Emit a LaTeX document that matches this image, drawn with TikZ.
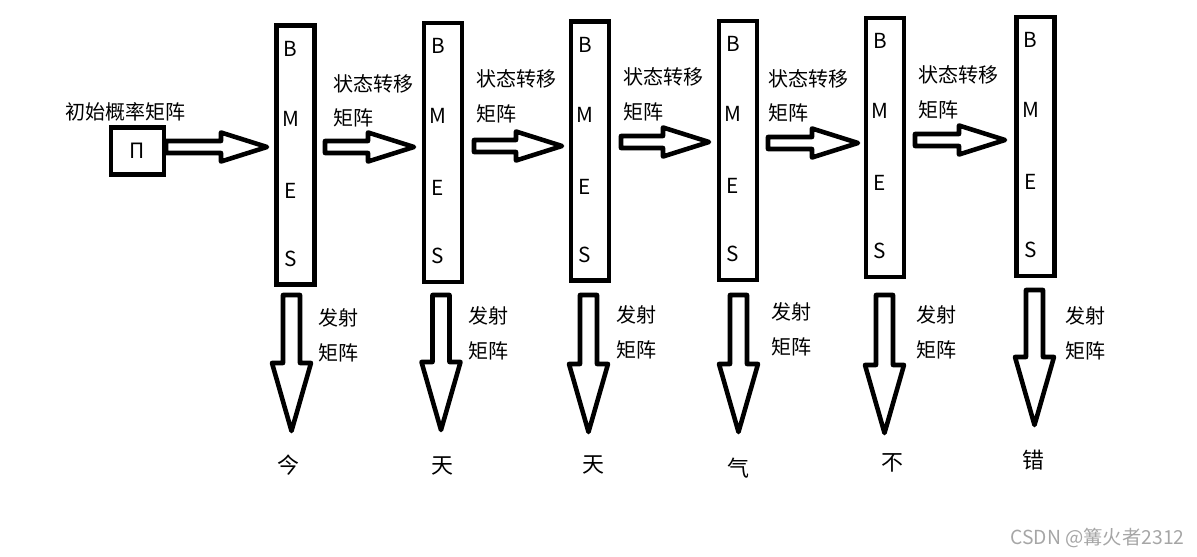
\documentclass[tikz,border=0pt]{standalone}
\usepackage{fontspec}
\setmainfont{Noto Sans CJK SC}
\usetikzlibrary{calc, positioning}

\tikzset{
    blockline/.style={line width=2.6pt, line join=round},
    statebox/.style={draw, line width=2.6pt, minimum width=0.76cm, minimum height=5.18cm, inner sep=0pt, outer sep=0pt},
    letter/.style={font=\fontsize{11.8}{13}\selectfont, inner sep=0pt},
    lbl/.style={font=\fontsize{11.4}{13}\selectfont, anchor=west, inner sep=0pt},
    obs/.style={font=\fontsize{12.5}{14}\selectfont, inner sep=0pt},
}
% horizontal block arrow: tail #1, tip #2
\newcommand{\hblock}[2]{%
  \draw[blockline] ($(#1)+(0,-6)$) -- ($(#2)+(-46,-6)$) -- ($(#2)+(-46,-14.5)$) -- (#2)
    -- ($(#2)+(-46,14.5)$) -- ($(#2)+(-46,6)$) -- ($(#1)+(0,6)$) -- cycle;}
% vertical block arrow: tail #1, tip #2
\newcommand{\vblock}[2]{%
  \draw[blockline] ($(#1)+(-8.5,0)$) -- ($(#2)+(-8.5,-68)$) -- ($(#2)+(-19.5,-68)$) -- (#2)
    -- ($(#2)+(19.5,-68)$) -- ($(#2)+(8.5,-68)$) -- ($(#1)+(8.5,0)$) -- cycle;}
% the four tags inside a state column
\newcommand{\bmes}[1]{%
  \node[letter] (#1b) at ($(#1.north)+(-5,23)$) {B};
  \node[letter] (#1m) at ($(#1.north)+(-5,93)$) {M};
  \node[letter] (#1e) at ($(#1.north)+(-5,165)$) {E};
  \node[letter] (#1s) at ($(#1.north)+(-5,233)$) {S};}

\begin{document}
\begin{tikzpicture}[x=0.02cm, y=-0.02cm]
\useasboundingbox (0,0) rectangle (1197,557);
% initial probabilities
\node[draw, line width=2.6pt, minimum width=1.06cm, minimum height=0.94cm, font=\fontsize{12}{14}\selectfont] (pi) at (137.5,151) {Π};
\node[lbl] (pilbl) at (65,112) {初始概率矩阵};
% state columns
\node[statebox] (s1) at (295.5,155) {};
\node[statebox] (s2) at (443,152.5) {};
\node[statebox] (s3) at (590,151) {};
\node[statebox] (s4) at (738,150.5) {};
\node[statebox] (s5) at (885,147.5) {};
\node[statebox] (s6) at (1035.5,146.5) {};
\bmes{s1} \bmes{s2} \bmes{s3} \bmes{s4} \bmes{s5} \bmes{s6}
% transition arrows
\coordinate (p0) at (166,147);   \coordinate (p1) at (267,147);
\coordinate (a1) at (325,147);   \coordinate (b1) at (414,147);
\coordinate (a2) at (474,146);   \coordinate (b2) at (562,146);
\coordinate (a3) at (621,142);   \coordinate (b3) at (709,142);
\coordinate (a4) at (768,143);   \coordinate (b4) at (858,143);
\coordinate (a5) at (915,140);   \coordinate (b5) at (1005,140);
\hblock{p0}{p1}
\hblock{a1}{b1} \hblock{a2}{b2} \hblock{a3}{b3} \hblock{a4}{b4} \hblock{a5}{b5}
\node[lbl] (t1) at (333,84) {状态转移};  \node[lbl] (t1m) at (333,118) {矩阵};
\node[lbl] (t2) at (476,79) {状态转移};  \node[lbl] (t2m) at (476,114) {矩阵};
\node[lbl] (t3) at (623,77) {状态转移};  \node[lbl] (t3m) at (623,112) {矩阵};
\node[lbl] (t4) at (768,79) {状态转移};  \node[lbl] (t4m) at (768,113) {矩阵};
\node[lbl] (t5) at (918,75) {状态转移};  \node[lbl] (t5m) at (918,110) {矩阵};
% emission arrows
\coordinate (d1) at (291.5,295);  \coordinate (e1) at (291.5,431);
\coordinate (d2) at (441,295);    \coordinate (e2) at (441,430);
\coordinate (d3) at (588.5,295);  \coordinate (e3) at (588.5,432);
\coordinate (d4) at (738.5,295);  \coordinate (e4) at (738.5,432);
\coordinate (d5) at (884.5,295);  \coordinate (e5) at (884.5,433);
\coordinate (d6) at (1034.5,290); \coordinate (e6) at (1034.5,425);
\vblock{d1}{e1} \vblock{d2}{e2} \vblock{d3}{e3} \vblock{d4}{e4} \vblock{d5}{e5} \vblock{d6}{e6}
\node[lbl] (f1) at (318,318) {发射};   \node[lbl] (f1m) at (318,353) {矩阵};
\node[lbl] (f2) at (468,316) {发射};   \node[lbl] (f2m) at (468,351) {矩阵};
\node[lbl] (f3) at (616,315) {发射};   \node[lbl] (f3m) at (616,350) {矩阵};
\node[lbl] (f4) at (771,312) {发射};   \node[lbl] (f4m) at (771,347) {矩阵};
\node[lbl] (f5) at (916,315) {发射};   \node[lbl] (f5m) at (916,350) {矩阵};
\node[lbl] (f6) at (1065,316) {发射};  \node[lbl] (f6m) at (1065,351) {矩阵};
% observed characters
\node[obs] (o1) at (288,465) {今};
\node[obs] (o2) at (442,466) {天};
\node[obs] (o3) at (593,465) {天};
\node[obs] (o4) at (738,468) {气};
\node[obs] (o5) at (892,463) {不};
\node[obs] (o6) at (1033,460) {错};
% watermark
\node[lbl, text=gray!70, font=\fontsize{11}{13}\selectfont] (wm) at (1010,538) {CSDN @篝火者2312};
\end{tikzpicture}
\end{document}
